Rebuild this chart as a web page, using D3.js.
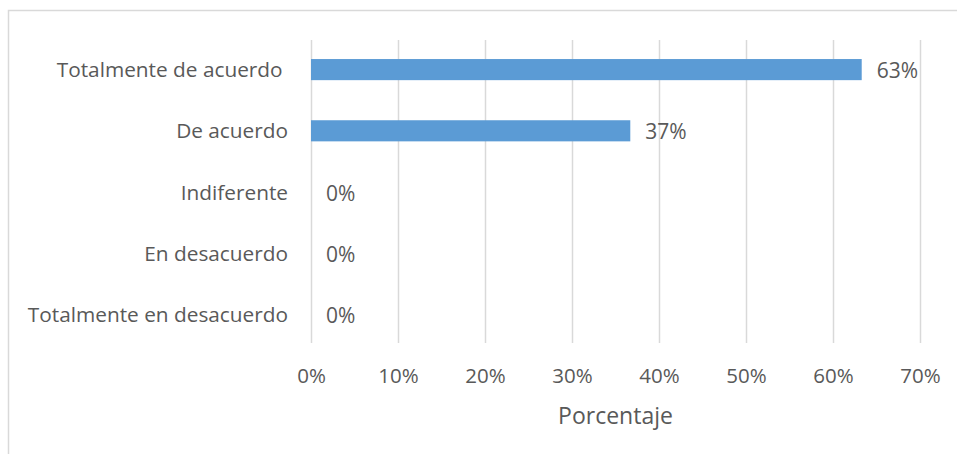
<!DOCTYPE html>
<html>
<head>
<meta charset="utf-8">
<script src="https://cdn.jsdelivr.net/npm/d3@7"></script>
<style>
  html, body { margin: 0; padding: 0; background: #fff; }
  svg text { font-family: "Open Sans", sans-serif; fill: #595959; white-space: pre; }
</style>
</head>
<body>
<svg id="chart" width="957" height="454"></svg>
<script>
const categories = ["Totalmente de acuerdo ", "De acuerdo", "Indiferente", "En desacuerdo", "Totalmente en desacuerdo"];
const values = [63.3, 36.7, 0, 0, 0];
const valueLabels = ["63%", "37%", "0%", "0%", "0%"];
const tickValues = [0, 10, 20, 30, 40, 50, 60, 70];
const axisTitle = "Porcentaje";

const svg = d3.select("#chart");

// chart border
svg.append("rect")
  .attr("x", 8.5).attr("y", 10.5)
  .attr("width", 960).attr("height", 460)
  .attr("fill", "none").attr("stroke", "#d9d9d9").attr("stroke-width", 1.5);

const x = d3.scaleLinear().domain([0, 70]).range([311, 920]);
const y = d3.scaleBand().domain(categories).range([39, 345]).paddingInner(0.655).paddingOuter(0.3275);

// gridlines
svg.append("g").selectAll("line").data(tickValues).join("line")
  .attr("x1", d => Math.round(x(d)) + 0.5).attr("x2", d => Math.round(x(d)) + 0.5)
  .attr("y1", 40).attr("y2", 343)
  .attr("stroke", "#d9d9d9").attr("stroke-width", 1.5);

const fs = 20.8;

// x axis tick labels
const xAxis = d3.axisBottom(x).tickValues(tickValues).tickFormat(d => d + "%").tickSize(0).tickPadding(0);
const gx = svg.append("g").attr("transform", "translate(0,383)").call(xAxis);
gx.select(".domain").remove();
gx.selectAll("text").attr("font-size", 20.5).attr("dy", 0).attr("y", 0)
  .style("font-family", "'Open Sans', sans-serif").attr("fill", "#595959");

// y axis labels
const yAxis = d3.axisLeft(y).tickSize(0).tickPadding(0);
const gy = svg.append("g").attr("transform", "translate(288,0)").call(yAxis);
gy.select(".domain").remove();
gy.selectAll("text").attr("font-size", fs).attr("dy", 7.5)
  .style("font-family", "'Open Sans', sans-serif").attr("fill", "#595959");

// bars
svg.append("g").selectAll("rect").data(values).join("rect")
  .attr("x", x(0))
  .attr("y", (d, i) => y(categories[i]))
  .attr("width", d => x(d) - x(0))
  .attr("height", y.bandwidth())
  .attr("fill", "#5b9bd5");

// value labels
svg.append("g").selectAll("text").data(values).join("text")
  .attr("x", d => x(d) + 15)
  .attr("y", (d, i) => y(categories[i]) + y.bandwidth() / 2)
  .attr("dy", 8.5)
  .attr("font-size", 21)
  .text((d, i) => valueLabels[i]);

// axis title
svg.append("text")
  .attr("x", (x(0) + x(70)) / 2).attr("y", 424)
  .attr("text-anchor", "middle")
  .attr("font-size", 23)
  .text(axisTitle);
</script>
</body>
</html>
